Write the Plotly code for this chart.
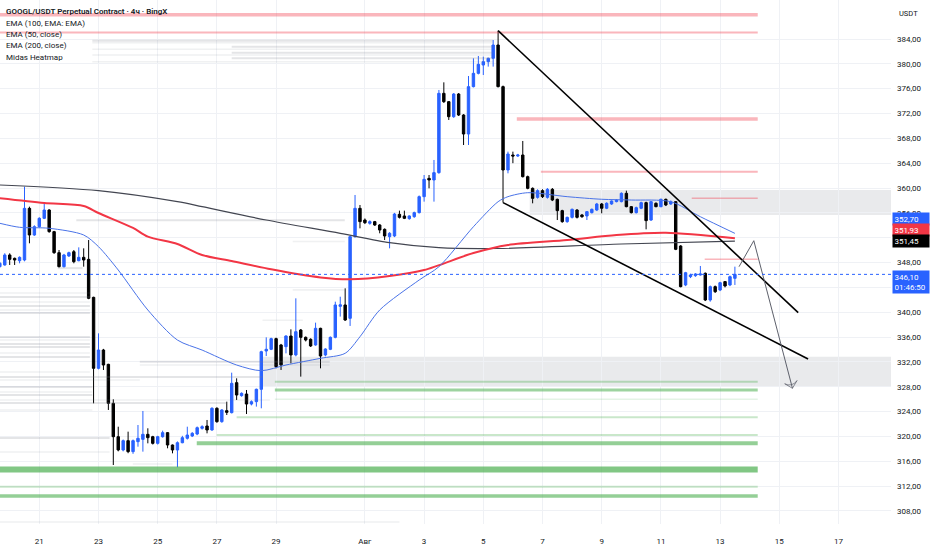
import plotly.graph_objects as go
import pandas as pd

# ---- candles, 4h, first bar 2025-07-19 16:00
opens = [347.34, 347.61, 349.22, 348.68, 348.30, 348.41, 356.73, 352.44, 353.78, 355.12,
         356.46, 352.98, 349.59, 347.34, 349.06, 349.75, 348.30, 348.84, 348.52, 342.40,
         330.97, 333.92, 331.61, 325.33, 319.96, 317.82, 319.32, 317.55, 319.16, 319.53,
         320.34, 319.96, 318.89, 319.96, 320.61, 318.62, 317.82, 318.99, 319.70, 320.07,
         320.39, 321.31, 321.68, 321.04, 324.53, 322.38, 324.15, 323.83, 328.66, 326.57,
         326.83, 325.22, 325.60, 327.59, 333.76, 334.03, 335.75, 334.73, 334.46, 336.17,
         333.12, 337.14, 335.96, 335.64, 334.73, 337.41, 333.12, 334.03, 335.96, 340.95,
         341.17, 339.02, 352.17, 356.73, 354.85, 354.32, 354.59, 354.05, 353.35, 352.17,
         352.28, 355.77, 355.50, 355.07, 355.39, 356.04, 358.61, 361.56, 361.30, 362.48,
         375.25, 373.91, 371.49, 375.14, 371.76, 368.70, 376.33, 378.47, 379.81, 380.35,
         380.89, 383.03, 376.33, 362.91, 365.32, 365.16, 365.32, 361.83, 359.95, 358.50,
         359.58, 358.50, 359.79, 358.18, 356.36, 354.59, 355.28, 356.46, 355.66, 355.50,
         356.04, 356.46, 357.43, 356.74, 357.43, 357.81, 357.81, 359.15, 357.00, 356.04,
         356.74, 357.65, 354.85, 357.54, 357.00, 358.18, 357.43, 357.81, 350.67, 344.39,
         345.73, 345.89, 346.00, 346.27, 341.97, 344.12, 343.58, 344.93, 344.39, 345.46]
highs = [348.10, 349.50, 349.49, 348.80, 349.00, 360.22, 357.00, 354.00, 355.30, 357.43,
         356.60, 353.10, 350.02, 349.40, 349.75, 350.02, 350.45, 350.29, 351.63, 342.50,
         336.60, 334.10, 331.70, 325.98, 321.57, 319.50, 320.77, 319.50, 321.84, 324.10,
         321.31, 320.10, 320.10, 320.93, 320.70, 318.70, 319.20, 320.10, 321.57, 320.70,
         321.60, 321.80, 322.65, 324.70, 324.70, 324.40, 325.60, 330.27, 329.36, 327.10,
         327.48, 325.80, 327.70, 333.80, 335.96, 335.90, 335.90, 334.90, 336.30, 337.25,
         342.24, 337.30, 336.10, 335.80, 338.32, 337.50, 334.20, 336.10, 341.70, 342.50,
         343.85, 352.30, 358.88, 357.27, 355.10, 354.80, 354.70, 354.20, 353.50, 352.90,
         356.00, 356.36, 356.36, 355.60, 356.20, 358.80, 362.10, 362.10, 364.52, 375.79,
         377.02, 374.00, 375.30, 375.30, 371.90, 378.04, 380.89, 381.26, 381.16, 381.00,
         383.84, 385.34, 376.50, 365.86, 365.86, 365.50, 367.58, 362.00, 360.10, 359.80,
         359.80, 360.00, 360.00, 358.30, 356.50, 355.40, 356.70, 356.60, 355.80, 356.30,
         356.70, 357.60, 357.60, 357.70, 358.00, 358.20, 359.30, 359.58, 357.10, 357.00,
         357.80, 357.80, 357.90, 357.70, 358.30, 358.30, 358.00, 357.90, 350.80, 346.50,
         346.20, 346.30, 347.45, 346.40, 344.30, 344.30, 344.90, 345.00, 345.90, 347.34]
lows = [347.20, 347.50, 347.61, 347.61, 347.88, 348.20, 351.10, 352.30, 353.60, 355.00,
        352.80, 349.40, 347.20, 347.20, 348.90, 347.88, 348.20, 347.34, 342.10, 325.33,
        330.80, 330.70, 324.26, 315.40, 317.60, 317.60, 317.30, 317.20, 318.35, 317.55,
        318.89, 318.70, 318.70, 319.80, 318.09, 317.28, 315.03, 318.90, 319.50, 319.90,
        320.20, 321.10, 320.50, 320.90, 322.20, 322.20, 323.45, 323.70, 325.87, 326.40,
        323.61, 325.00, 324.80, 324.53, 332.95, 333.90, 330.97, 330.70, 333.38, 331.77,
        332.90, 329.63, 335.30, 334.40, 334.60, 330.97, 332.90, 333.90, 335.80, 339.30,
        338.60, 337.79, 352.00, 353.51, 354.20, 354.10, 353.90, 352.71, 351.63, 350.29,
        352.10, 355.10, 355.00, 354.90, 355.20, 355.90, 357.81, 359.95, 357.81, 362.30,
        373.70, 370.96, 371.30, 371.60, 366.93, 366.93, 376.20, 378.30, 378.20, 379.55,
        379.55, 376.20, 357.65, 362.37, 364.00, 365.00, 361.70, 359.80, 357.54, 358.30,
        358.40, 358.30, 357.90, 354.85, 354.40, 354.40, 355.10, 355.10, 355.20, 354.85,
        355.90, 356.30, 355.93, 356.60, 357.30, 357.70, 357.70, 356.90, 355.90, 355.90,
        356.60, 353.35, 354.70, 356.90, 356.90, 357.10, 357.30, 350.00, 344.00, 344.20,
        345.50, 345.70, 345.90, 341.80, 341.70, 343.10, 343.40, 344.00, 344.20, 344.39]
closes = [347.88, 349.22, 348.52, 348.41, 348.84, 356.73, 352.44, 353.78, 355.12, 356.46,
          352.98, 349.59, 347.34, 349.22, 349.59, 348.14, 348.84, 348.41, 342.24, 330.97,
          333.92, 331.50, 325.33, 319.96, 317.82, 319.32, 317.55, 319.32, 319.70, 320.34,
          319.80, 318.89, 319.96, 320.61, 318.62, 317.82, 318.99, 319.80, 320.23, 320.50,
          321.41, 321.57, 321.04, 324.53, 322.38, 324.26, 323.88, 328.55, 326.67, 326.94,
          325.22, 325.60, 327.59, 333.65, 334.03, 335.75, 331.24, 331.51, 336.17, 333.12,
          336.87, 335.96, 335.53, 334.57, 337.41, 332.95, 334.08, 335.96, 341.17, 341.20,
          338.75, 352.17, 356.73, 354.59, 354.42, 354.59, 354.05, 353.24, 352.28, 352.71,
          355.82, 355.28, 355.12, 355.50, 356.04, 358.61, 361.40, 361.30, 362.48, 375.25,
          373.91, 371.49, 375.14, 371.76, 368.70, 376.33, 378.47, 379.92, 380.35, 380.89,
          383.03, 376.33, 362.91, 365.48, 365.16, 365.32, 361.83, 359.95, 358.34, 359.58,
          358.61, 359.79, 358.07, 356.36, 354.59, 355.28, 356.57, 355.28, 355.39, 356.20,
          356.57, 357.43, 356.74, 357.54, 357.91, 358.07, 359.15, 357.00, 356.04, 356.84,
          357.65, 354.75, 357.81, 357.00, 358.18, 357.27, 357.81, 350.13, 344.12, 346.37,
          346.00, 346.16, 346.16, 341.97, 344.12, 343.31, 344.76, 344.23, 345.73, 346.10]

# ---- moving averages (bar index, value)
ema50_idx = [0, 4, 10, 17, 20, 24, 30, 36, 41, 48, 53, 58, 65, 70, 73, 77, 85, 89, 96, 101,
             103, 107, 115, 122, 128, 136, 142, 149]
ema50_val = [354.32, 353.68, 353.52, 352.44, 350.56, 346.80, 340.36, 335.52, 333.91, 331.50,
             330.59, 331.50, 332.58, 333.39, 336.06, 340.36, 345.19, 347.33, 353.77, 357.80,
             358.61, 359.25, 358.61, 358.19, 358.07, 357.80, 355.38, 352.70]
ema100_idx = [0, 9, 17, 20, 27, 30, 36, 41, 47, 55, 65, 71, 79, 86, 96, 103, 115, 125, 135, 149]
ema100_val = [358.35, 357.59, 357.11, 355.98, 353.57, 352.17, 350.99, 349.22, 348.25, 346.91,
              345.60, 345.30, 345.84, 346.80, 349.54, 350.83, 351.63, 352.44, 352.81, 351.93]
ema200_idx = [0, 20, 36, 41, 54, 69, 79, 89, 101, 126, 149]
ema200_val = [360.49, 359.57, 357.80, 357.00, 354.85, 352.71, 351.20, 350.39, 350.26, 350.99, 351.45]

# ---- Midas heatmap levels
L0 = "2025-07-19 12:00"
HEND = "2025-08-14 06:30"
pink_price = [387.90, 385.05, 371.12, 362.63, 358.35, 348.53]
pink_from = [L0, L0, "2025-08-06 03:10", "2025-08-06 22:40", "2025-08-12 01:00", "2025-08-12 11:30"]
pink_width = [3.5, 2, 3.5, 2, 1.5, 1.5]
green_price = [328.82, 327.48, 326.00, 323.08, 320.23, 318.90, 314.68, 311.91, 310.41]
green_from = ["2025-07-28 23:00", "2025-07-28 23:00", "2025-07-28 23:00", "2025-07-27 16:00",
              "2025-07-26 23:50", "2025-07-26 07:40", L0, L0, L0]
green_width = [2, 3, 1.5, 2, 2, 4, 6, 2, 3.5]
green_alpha = [0.35, 0.55, 0.15, 0.3, 0.3, 0.6, 0.7, 0.3, 0.6]
gray_price = [383.73, 383.40, 382.76, 382.34, 381.80, 381.42, 380.89, 380.34,
              354.80, 351.40, 347.10, 343.60, 338.70,
              343.10, 342.45, 341.65, 341.00, 340.36, 339.88,
              336.01, 335.53, 334.89, 334.40, 333.44, 332.79,
              332.04, 331.50, 330.38, 329.57, 329.09,
              327.96, 327.16, 326.67, 325.87, 325.38, 324.26,
              319.75, 317.49, 315.56, 306.22]
gray_from = ["2025-07-22 19:00", "2025-07-22 19:00", "2025-07-27 12:00", "2025-07-22 19:00",
             "2025-07-27 12:00", "2025-07-22 19:00", "2025-07-27 12:00", "2025-07-22 19:00",
             "2025-07-22 06:00", "2025-07-29 13:30", "2025-07-21 15:00", "2025-07-29 13:30",
             "2025-07-28 13:00",
             L0, L0, L0, L0, L0, L0,
             L0, L0, L0, L0, L0, L0,
             "2025-07-24 09:30", "2025-07-24 09:30", L0, L0, L0,
             L0, L0, L0, L0, L0, L0,
             L0, L0, "2025-07-24 03:50", L0]
gray_to = ["2025-08-05 07:40"] * 8 + \
          ["2025-07-31 07:40", "2025-07-31 07:40", "2025-07-22 11:00", "2025-07-31 07:40",
           "2025-07-29 21:40"] + \
          ["2025-07-22 17:00"] * 12 + \
          ["2025-07-30 19:30", "2025-07-30 19:30", "2025-07-22 17:00", "2025-07-28 13:00",
           "2025-07-24 09:30",
           "2025-07-22 19:00", "2025-07-22 19:00", "2025-07-22 19:00", "2025-07-28 19:00",
           "2025-07-27 08:00", "2025-07-22 19:00",
           "2025-07-23 09:00", "2025-07-23 09:00", "2025-07-25 12:00", "2025-08-02 04:00"]
gray_strong = [1, 0, 1, 0, 1, 0, 1, 0,
               1, 0, 1, 0, 0,
               0, 1, 0, 1, 0, 1,
               1, 0, 1, 1, 0, 1,
               1, 0, 0, 1, 0,
               1, 0, 1, 0, 1, 0,
               1, 0, 0, 0]

# ---- supply / demand zones (low, high, start)
zone_low = [355.66, 328.01]
zone_high = [359.68, 332.84]
zone_from = ["2025-08-06 13:40", "2025-07-28 13:10"]

# ---- drawings
upper_tl_t = ["2025-08-05 12:00", "2025-08-15 15:20"]
upper_tl_p = [385.34, 339.93]
lower_tl_t = ["2025-08-05 16:00", "2025-08-15 23:20"]
lower_tl_p = [357.65, 332.47]
arrow_t = ["2025-08-13 15:20", "2025-08-14 03:20", "2025-08-15 10:40"]
arrow_p = [347.33, 351.52, 327.75]

date_ticks = ["2025-07-21", "2025-07-23", "2025-07-25", "2025-07-27", "2025-07-29", "2025-08-01",
              "2025-08-03", "2025-08-05", "2025-08-07", "2025-08-09", "2025-08-11", "2025-08-13",
              "2025-08-15", "2025-08-17"]
date_labels = ["21", "23", "25", "27", "29", "Авг", "3", "5", "7", "9", "11", "13", "15", "17"]
price_ticks = list(range(308, 388, 4))
hidden_price_ticks = [352, 344]   # covered by the price labels on the scale

legend_lines = ["GOOGL/USDT Perpetual Contract · 4ч · BingX", "EMA (100, EMA: EMA)",
                "EMA (50, close)", "EMA (200, close)", "Midas Heatmap"]

times = pd.date_range("2025-07-19 16:00", periods=len(closes), freq="4h")
FONT = "Roboto"
TXT = "#131722"
BLUE = "#2962ff"
X_RANGE = ["2025-07-19 16:08", "2025-08-18 18:34"]
Y_RANGE = [305.9, 390.28]
PLOT_H = 524


def fmt(v):
    return f"{v:.2f}".replace(".", ",")


def seg_trace(prices, starts, ends, color, width):
    xs, ys = [], []
    for p, a, b in zip(prices, starts, ends):
        xs += [a, b, None]
        ys += [p, p, None]
    return go.Scatter(x=xs, y=ys, mode="lines", line=dict(color=color, width=width),
                      hoverinfo="skip", showlegend=False)


fig = go.Figure()

# zones
for lo, hi, st in zip(zone_low, zone_high, zone_from):
    fig.add_shape(type="rect", xref="x", yref="y", x0=st, x1="2025-08-20", y0=lo, y1=hi,
                  fillcolor="rgba(120,123,134,0.16)", line_width=0, layer="below")

# heatmap
for strong in (0, 1):
    sel = [i for i, s in enumerate(gray_strong) if s == strong]
    fig.add_trace(seg_trace([gray_price[i] for i in sel], [gray_from[i] for i in sel],
                            [gray_to[i] for i in sel],
                            "rgba(120,123,134,0.20)" if strong else "rgba(120,123,134,0.11)",
                            2 if strong else 1.6))
for p, a, w in zip(pink_price, pink_from, pink_width):
    fig.add_trace(seg_trace([p], [a], [HEND], "rgba(242,54,69,0.36)", w))
for p, a, w, al in zip(green_price, green_from, green_width, green_alpha):
    fig.add_trace(seg_trace([p], [a], [HEND], f"rgba(76,175,80,{al})", w))

# current price line
fig.add_hline(y=closes[-1], line=dict(color=BLUE, width=1, dash="dot"))

# EMAs
for idx, val, col, w in [(ema200_idx, ema200_val, "#434651", 1.2),
                         (ema100_idx, ema100_val, "#f23645", 2),
                         (ema50_idx, ema50_val, "#4a73e8", 1)]:
    fig.add_trace(go.Scatter(x=[times[i] for i in idx], y=val, mode="lines",
                             line=dict(color=col, width=w, shape="spline", smoothing=0.8),
                             hoverinfo="skip", showlegend=False))

# candles
fig.add_trace(go.Candlestick(
    x=times, open=opens, high=highs, low=lows, close=closes,
    increasing=dict(line=dict(color=BLUE, width=1), fillcolor=BLUE),
    decreasing=dict(line=dict(color="#000000", width=1), fillcolor="#000000"),
    showlegend=False, hoverinfo="skip"))

# trend lines + arrow
for t, p in [(upper_tl_t, upper_tl_p), (lower_tl_t, lower_tl_p)]:
    fig.add_trace(go.Scatter(x=t, y=p, mode="lines", line=dict(color="#000000", width=1.6),
                             hoverinfo="skip", showlegend=False))
fig.add_trace(go.Scatter(x=arrow_t, y=arrow_p, mode="lines+markers",
                         line=dict(color="#5d606b", width=1),
                         marker=dict(symbol="arrow-wide-open", size=[0, 0, 9], angleref="previous",
                                     color="#5d606b", line=dict(width=1, color="#5d606b")),
                         hoverinfo="skip", showlegend=False))

# legend text top-left
for k, txt in enumerate(legend_lines):
    fig.add_annotation(x=0, xref="paper", xanchor="left", xshift=4,
                       y=1 - (11.7 + 11.4 * k) / PLOT_H, yref="paper", yanchor="middle",
                       text=txt, showarrow=False,
                       font=dict(family=FONT, size=8 if k == 0 else 8, color=TXT,
                                 weight=600 if k == 0 else 400))

# price scale labels
for val, bg, shift in [(ema50_val[-1], BLUE, 14.7), (ema100_val[-1], "#f23645", 8.2),
                       (ema200_val[-1], "#000000", 0)]:
    fig.add_annotation(x=1, xref="paper", xanchor="left", xshift=1, y=val, yref="y",
                       yanchor="middle", yshift=shift, text=fmt(val), showarrow=False,
                       bgcolor=bg, borderpad=1.5, width=33, align="left",
                       font=dict(family=FONT, size=8, color="white"))
fig.add_annotation(x=1, xref="paper", xanchor="left", xshift=1, y=closes[-1], yref="y",
                   yanchor="top", yshift=4.4, text=fmt(closes[-1]) + "<br>01:46:50",
                   showarrow=False, bgcolor=BLUE, borderpad=1.5, width=33, align="left",
                   font=dict(family=FONT, size=8, color="white"))
fig.add_annotation(x=1, xref="paper", xanchor="left", xshift=6, y=1, yref="paper",
                   yanchor="top", yshift=-7, text="USDT", showarrow=False,
                   font=dict(family=FONT, size=7.5, color=TXT))

fig.update_layout(
    width=932, height=550,
    margin=dict(l=0, r=41, t=0, b=26),
    paper_bgcolor="white", plot_bgcolor="white",
    font=dict(family=FONT, size=8, color=TXT),
    xaxis=dict(type="date", range=X_RANGE, tickvals=date_ticks, ticktext=date_labels,
               showgrid=True, gridcolor="#eff1f5", gridwidth=1, zeroline=False,
               showline=False, ticks="", ticklabelstandoff=11,
               tickfont=dict(family=FONT, size=8, color=TXT),
               rangeslider=dict(visible=False)),
    yaxis=dict(side="right", range=Y_RANGE, tickvals=price_ticks,
               ticktext=["" if v in hidden_price_ticks else fmt(v) for v in price_ticks],
               showgrid=True, gridcolor="#eff1f5", gridwidth=1, zeroline=False,
               showline=False, ticks="", ticklabelstandoff=5,
               tickfont=dict(family=FONT, size=8, color=TXT)),
    hovermode=False,
)

# page body has a default 8px margin; drop it so the chart sits at the window corner
fig.write_html("out.html", config={"displayModeBar": False},
               post_script="document.body.style.margin='0';")
